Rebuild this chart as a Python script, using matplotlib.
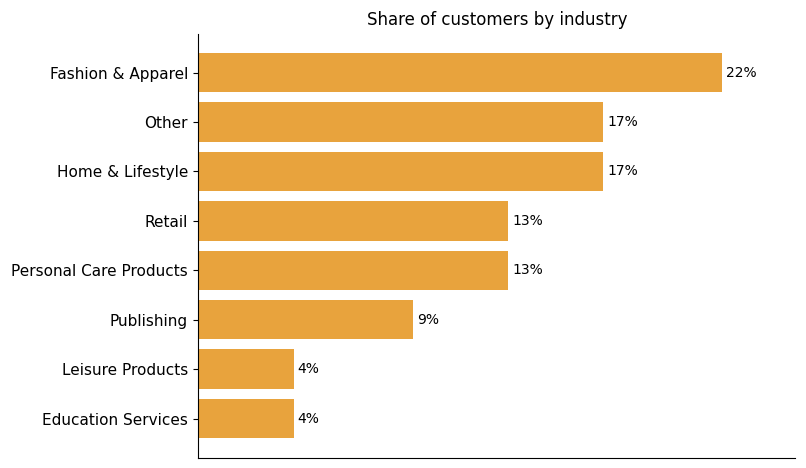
import matplotlib
matplotlib.use("Agg")
import matplotlib.pyplot as plt

industries = ["Fashion & Apparel", "Other", "Home & Lifestyle", "Retail",
              "Personal Care Products", "Publishing", "Leisure Products",
              "Education Services"]
shares = [22, 17, 17, 13, 13, 9, 4, 4]

fig = plt.figure(figsize=(8.06, 4.68), dpi=100)
ax = fig.add_axes([198.3 / 806, 1 - 457.6 / 468, (795.3 - 198.3) / 806, (457.6 - 33.6) / 468])

pos = list(range(len(industries)))[::-1]
bars = ax.barh(pos, shares, height=0.8, color="#e8a33d")
ax.set_yticks(pos)
ax.set_yticklabels(industries, fontsize=11)
ax.tick_params(axis="y", pad=4)
ax.set_xlim(0, max(shares) * 1.14)
ax.set_xticks([])
for b, v in zip(bars, shares):
	ax.text(b.get_width() + 0.18, b.get_y() + b.get_height() / 2, f"{v}%",
		va="center", ha="left", fontsize=10)

ax.spines["top"].set_visible(False)
ax.spines["right"].set_visible(False)
ax.set_title("Share of customers by industry", fontsize=12, pad=6.2)

fig.savefig("out.png", dpi=100)
